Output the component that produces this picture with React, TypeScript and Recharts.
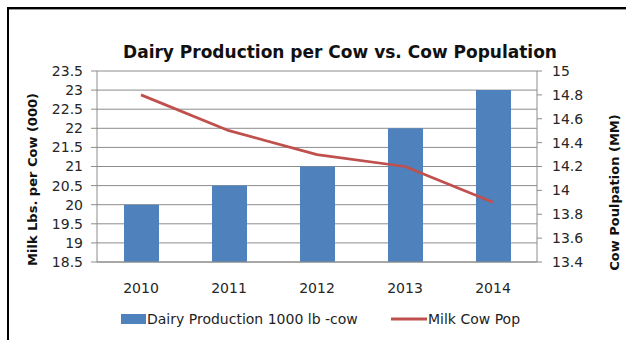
import React from "react";
import {
  ComposedChart,
  Bar,
  Line,
  XAxis,
  YAxis,
  CartesianGrid,
  Legend,
} from "recharts";

// Chart values
const years = ["2010", "2011", "2012", "2013", "2014"];
const dairyPerCow = [20, 20.5, 21, 22, 23];
const milkCowPop = [14.8, 14.5, 14.3, 14.2, 13.9];
const leftTicks = [18.5, 19, 19.5, 20, 20.5, 21, 21.5, 22, 22.5, 23, 23.5];
const rightTicks = [13.4, 13.6, 13.8, 14, 14.2, 14.4, 14.6, 14.8, 15];
const boundaryTicks = [0, 1, 2, 3, 4, 5];

const data = years.map((year, i) => ({
  year,
  dairy: dairyPerCow[i],
  pop: milkCowPop[i],
}));

const FONT = "'DejaVu Sans', sans-serif";
const W = 617;
const H = 331;

const LegendContent = (props: any) => {
  const payload = props.payload || [];
  const bar = payload.find((p: any) => p.dataKey === "dairy");
  const line = payload.find((p: any) => p.dataKey === "pop");
  return (
    <svg width={W} height={30} style={{ display: "block" }}>
      {bar && (
        <g>
          <rect x={112} y={6} width={25} height={10} fill={bar.color} />
          <text x={138} y={16} fontFamily={FONT} fontSize={14} fill="#1e1e1e">
            {bar.value}
          </text>
        </g>
      )}
      {line && (
        <g>
          <line x1={382} x2={418} y1={11} y2={11} stroke={line.color} strokeWidth={3} />
          <text x={419} y={16} fontFamily={FONT} fontSize={14} fill="#1e1e1e">
            {line.value}
          </text>
        </g>
      )}
    </svg>
  );
};

const LeftLabel = (props: any) => {
  const vb = props.viewBox || {};
  const x = vb.x + 23;
  const y = vb.y + vb.height / 2 + 13;
  return (
    <text
      x={x}
      y={y}
      transform={`rotate(-90, ${x}, ${y})`}
      textAnchor="middle"
      dominantBaseline="central"
      fontFamily={FONT}
      fontWeight="bold"
      fontSize={13}
      fill="#111"
    >
      Milk Lbs. per Cow (000)
    </text>
  );
};

const RightLabel = (props: any) => {
  const vb = props.viewBox || {};
  const x = vb.x + 77;
  const y = vb.y + vb.height / 2 + 26;
  return (
    <text
      x={x}
      y={y}
      transform={`rotate(-90, ${x}, ${y})`}
      textAnchor="middle"
      dominantBaseline="central"
      fontFamily={FONT}
      fontWeight="bold"
      fontSize={13}
      fill="#111"
    >
      Cow Poulpation (MM)
    </text>
  );
};

export default function App() {
  return (
    <div
      style={{
        position: "fixed",
        top: 7,
        left: 7,
        width: W + 2,
        height: H + 2,
        boxSizing: "border-box",
        borderTop: "2px solid #000",
        borderLeft: "2px solid #000",
        boxShadow: "inset 0 1px 0 #9a9a9a",
        background: "#fff",
        overflow: "hidden",
      }}
    >
      <ComposedChart
        width={W}
        height={H}
        data={data}
        margin={{ top: 62, right: 0, bottom: 38, left: 0 }}
      >
        <text
          x={331}
          y={49}
          textAnchor="middle"
          fontFamily={FONT}
          fontWeight="bold"
          fontSize={17}
          fill="#111"
        >
          Dairy Production per Cow vs. Cow Population
        </text>
        <CartesianGrid
          yAxisId="left"
          vertical={false}
          stroke="#8c8c8c"
          strokeWidth={1}
        />
        <XAxis
          xAxisId="edges"
          type="number"
          domain={[0, 5]}
          ticks={boundaryTicks}
          height={0}
          tick={false}
          tickSize={5}
          axisLine={false}
          tickLine={{ stroke: "#8c8c8c" }}
        />
        <XAxis
          dataKey="year"
          height={40}
          tickLine={false}
          axisLine={{ stroke: "#8c8c8c" }}
          tickMargin={15}
          tick={{ fontFamily: FONT, fontSize: 14, fill: "#262626" }}
        />
        <YAxis
          yAxisId="left"
          orientation="left"
          width={88}
          domain={[18.5, 23.5]}
          ticks={leftTicks}
          interval={0}
          tickSize={6}
          tickMargin={8}
          axisLine={{ stroke: "#8c8c8c" }}
          tickLine={{ stroke: "#8c8c8c" }}
          tick={{ fontFamily: FONT, fontSize: 14, fill: "#262626" }}
          label={<LeftLabel />}
        />
        <YAxis
          yAxisId="right"
          orientation="right"
          width={89}
          domain={[13.4, 15]}
          ticks={rightTicks}
          interval={0}
          tickSize={5}
          tickMargin={10}
          axisLine={{ stroke: "#8c8c8c" }}
          tickLine={{ stroke: "#8c8c8c" }}
          tick={{ fontFamily: FONT, fontSize: 14, fill: "#262626" }}
          label={<RightLabel />}
        />
        <Legend
          layout="horizontal"
          verticalAlign="middle"
          align="center"
          wrapperStyle={{ top: 299, left: 0, width: W }}
          content={<LegendContent />}
        />
        <Bar
          yAxisId="left"
          dataKey="dairy"
          name="Dairy Production 1000 lb -cow"
          fill="#4f81bd"
          barSize={35}
          isAnimationActive={false}
        />
        <Line
          yAxisId="right"
          dataKey="pop"
          name="Milk Cow Pop"
          type="linear"
          stroke="#c0504d"
          strokeWidth={2.75}
          strokeLinejoin="round"
          dot={false}
          activeDot={false}
          isAnimationActive={false}
        />
      </ComposedChart>
    </div>
  );
}
